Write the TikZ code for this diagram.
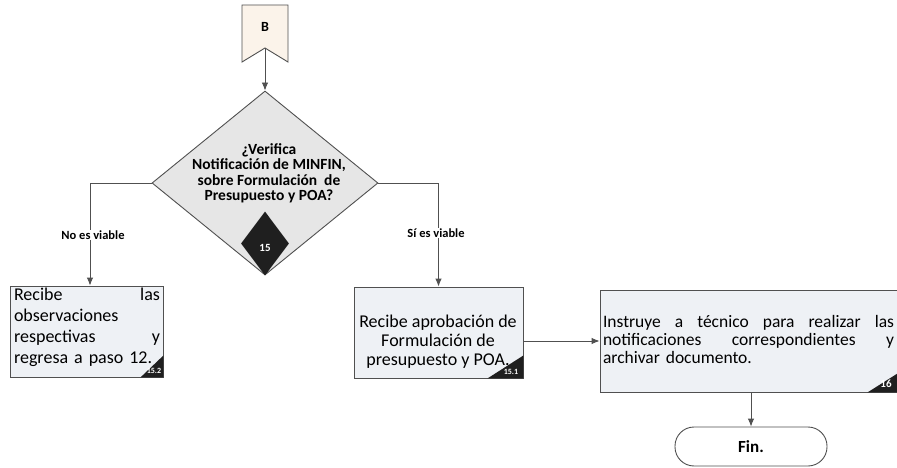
\documentclass[tikz,border=0pt]{standalone}
\usepackage{fontspec}
\setmainfont{Carlito}
\usetikzlibrary{shapes.geometric,arrows.meta,calc}
\definecolor{boxfill}{HTML}{EEF1F5}
\definecolor{decfill}{HTML}{E6E6E6}
\definecolor{offfill}{HTML}{FBF3EA}
\definecolor{linec}{HTML}{505050}
\tikzset{
 arr/.style={draw=linec, line width=0.9pt, -{Latex[length=8pt,width=6.5pt]}},
 procbox/.style={draw=linec, line width=0.9pt, fill=boxfill, rectangle, inner sep=0pt},
 boxtxt/.style={inner sep=0pt},
 corner/.style={fill=black!88},
 cornertxt/.style={text=white, font=\bfseries\fontsize{8}{8}\selectfont, inner sep=0pt},
 lbl/.style={fill=white, inner sep=1pt, font=\bfseries\fontsize{12.5}{13}\selectfont},
}
\begin{document}
\begin{tikzpicture}[x=1pt,y=-1pt]
\path[use as bounding box] (0,0) rectangle (897,468);
\clip (0,0) rectangle (897,468);
\fill[white] (0,0) rectangle (897,468);

% off-page connector B
\draw[draw=linec, line width=0.9pt, fill=offfill] (242,5) -- (288,5) -- (288,62) -- (265,48) -- (242,62) -- cycle;
\node[font=\bfseries\fontsize{14}{14}\selectfont, inner sep=0pt] (B) at (265,27) {B};
\coordinate (Bn) at (265,48);

% decision
\node[diamond, draw=linec, line width=0.9pt, fill=decfill, minimum width=226pt, minimum height=184pt, inner sep=0pt, aspect=1.23] (dec) at (265,183) {};
\node[align=center, font=\bfseries\fontsize{15.5}{15.5}\selectfont, inner sep=0pt] (dectxt) at (269,173.5) {¿Verifica\\Notificación de MINFIN,\\sobre Formulación\ \ de\\Presupuesto y POA?};
\node[diamond, fill=black!88, minimum width=48pt, minimum height=64pt, inner sep=0pt, aspect=0.74] (d15) at (265,243.5) {};
\node[text=white, font=\bfseries\fontsize{11}{11}\selectfont, inner sep=0pt] (n15) at (265,248) {15};

% left box 15.2
\node[procbox, minimum width=153pt, minimum height=91pt] (b152) at (86.5,331.5) {};
\node[boxtxt, font=\fontsize{18}{21}\selectfont, text width=146pt, align=left] (t152) at (87,327) {Recibe\hfill las\\observaciones\\respectivas\hfill y\\regresa a paso 12.};
\fill[corner] (b152.south east) -- ++(0,-22) -- ++(-23,22) -- cycle;
\node[cornertxt] (n152) at (154,371) {15.2};

% middle box 15.1
\node[procbox, minimum width=169pt, minimum height=91pt] (b151) at (438.5,332.5) {};
\node[boxtxt, font=\fontsize{18}{19}\selectfont, align=center] (t151) at (438,341.5) {Recibe aprobación de\\Formulación de\\presupuesto y POA.};
\fill[corner] (b151.south east) -- ++(0,-23) -- ++(-36,23) -- cycle;
\node[cornertxt] (n151) at (511,372) {15.1};

% right box 16
\node[procbox, minimum width=305pt, minimum height=102pt] (b16) at (752.5,341) {};
\node[boxtxt, font=\fontsize{17.5}{18}\selectfont, text width=291pt, align=left] (t16) at (748.5,339.5) {Instruye\hfill a\hfill técnico\hfill para\hfill realizar\hfill las\\notificaciones\hfill correspondientes\hfill y\\archivar documento.};
\fill[corner] (b16.south east) -- ++(0,-24) -- ++(-38,24) -- cycle;
\node[cornertxt, font=\bfseries\fontsize{11}{11}\selectfont] (n16) at (886,384) {16};

% end
\node[draw=linec, line width=0.9pt, rounded corners=19pt, minimum width=152pt, minimum height=39pt, fill=white, inner sep=0pt, font=\bfseries\fontsize{17}{17}\selectfont] (fin) at (751,446.5) {Fin.};

% connectors
\draw[arr] (Bn) -- (dec.north);
\draw[arr] (dec.west) -| ([xshift=3.5pt]b152.north);
\draw[arr] (dec.east) -| (b151.north);
\draw[arr] (b151.east |- b16.west) -- (b16.west);
\draw[arr] (fin.north |- b16.south) -- (fin.north);

\node[lbl] (lno) at (93,235) {No es viable};
\node[lbl] (lsi) at (436,233) {Sí es viable};
\end{tikzpicture}
\end{document}
